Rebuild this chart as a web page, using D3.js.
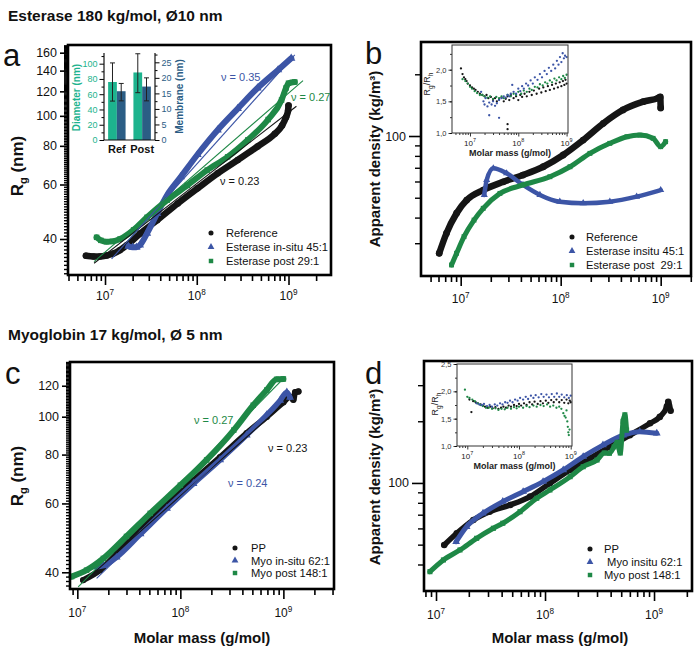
<!DOCTYPE html>
<html><head><meta charset="utf-8">
<script src="https://cdn.jsdelivr.net/npm/d3@7/dist/d3.min.js"></script>
<style>
html,body{margin:0;padding:0;background:#fff}
svg{display:block}
text{font-family:"Liberation Sans",Arial,Helvetica,sans-serif}
</style></head><body>
<svg id="chart" width="700" height="653"></svg>
<script>
const FONT = '"Liberation Sans",Arial,Helvetica,sans-serif';
const BLACK = "#151515", BLUE = "#3c55a6", GREEN = "#1e8846", TEAL = "#1db38e", NAVY = "#2b5d85";

// ---------------- Panel a : Rg vs molar mass, Esterase ----------------
const aReference = [[6.2e6,35.3],[7.5e6,35.1],[8.8e6,35.1],[1.05e7,35.4],[1.23e7,35.9],[1.45e7,36.8],[1.73e7,38.2],[2.42e7,41.7],[3.7e7,46.0],[6.2e7,52.1],[1.02e8,58.3],[1.69e8,65.2],[2.8e8,72.0],[4.6e8,79.6],[7.1e8,87.5],[8.5e8,93],[9.4e8,99],[9.9e8,104],[1.0e9,108]];
const aInsitu = [[1.8e7,37.9],[2.0e7,37.6],[2.2e7,37.6],[2.4e7,38.2],[2.87e7,41.7],[3.7e7,48.3],[4.76e7,55.5],[6.7e7,63.5],[1.02e8,75.0],[1.69e8,90.0],[2.8e8,105.5],[4.6e8,123.0],[7.7e8,140.7],[1.07e9,153.4]];
const aPost = [[8.1e6,40.5],[9.0e6,39.6],[1.04e7,39.2],[1.2e7,39.3],[1.46e7,40.0],[2.05e7,42.8],[2.87e7,47.0],[4.76e7,53.4],[7.9e7,59.6],[1.3e8,66.8],[2.17e8,73.7],[3.6e8,83.6],[6.0e8,97.3],[8.4e8,112.5],[9.4e8,123],[1.0e9,127.5],[1.17e9,128.6]];
const aFitReference = [[7.6e6,33.4],[1.22e9,107.4]];
const aFitInsitu = [[1.18e7,34.5],[1.17e9,157.3]];
const aFitPost = [[7.6e6,33.8],[1.44e9,130]];
const aLegend = ["Reference", "Esterase in-situ 45:1", "Esterase post 29:1"];
const aNu = ["ν = 0.23", "ν = 0.35", "ν = 0.27"];
const aYMajor = [40, 60, 80, 100, 120, 140, 160];

// inset of panel a : bar chart
const barCategories = ["Ref", "Post"];
const barDiameter = [76, 88.5];
const barDiameterErr = [[51, 101], [62, 113]];
const barMembrane = [15.7, 17.2];
const barMembraneErr = [[12.6, 18.2], [12.6, 20.0]];
const barDiamTicks = [0, 20, 40, 60, 80, 100];
const barMembTicks = [0, 5, 10, 15, 20, 25];

// ---------------- Panel b : apparent density, Esterase ----------------
const bReference = [[6.1e6,26.8],[7.2e6,33.5],[9.1e6,42.0],[1.15e7,48.7],[1.68e7,54.5],[2.67e7,59.8],[4.2e7,64.5],[6.7e7,70.8],[1.06e8,80.8],[1.68e8,95.6],[2.67e8,115.3],[4.2e8,134],[6.7e8,147],[9.5e8,153.5],[9.9e8,155],[1.0e9,137]];
const bInsitu = [[1.72e7,51.6],[1.82e7,61],[2.12e7,69.6],[2.88e7,65.8],[4.2e7,57.7],[6.2e7,51.6],[9.8e7,47.8],[1.68e8,47.0],[3.1e8,47.8],[5.75e8,50.6],[1.0e9,54.5]];
const bPost = [[8.1e6,23.5],[9.1e6,26.8],[1.08e7,32.3],[1.36e7,38.9],[1.68e7,44.4],[2.47e7,52.5],[4.2e7,57.7],[7.8e7,63.3],[1.24e8,70.8],[1.96e8,82.3],[3.1e8,92.1],[4.6e8,99.2],[6.2e8,101],[8.4e8,97.4],[1.0e9,88.7],[1.12e9,93.8]];
const bLegend = ["Reference", "Esterase insitu 45:1", "Esterase post  29:1"];
const bYTicks = [30, 40, 50, 60, 70, 80, 90, 200];
const bYLabel = [100];

// inset of panel b : Rg/Rh
const bInsetReference = [[6.5e6,2.02],[7e6,1.93],[7.5e6,1.88],[8e6,1.85],[8.5e6,1.82],[9e6,1.78],[1e7,1.75],[1.1e7,1.72],[1.2e7,1.7],[1.3e7,1.68],[1.45e7,1.65],[1.6e7,1.62],[1.8e7,1.6],[2e7,1.58],[2.2e7,1.6],[2.4e7,1.55],[2.7e7,1.57],[3e7,1.52],[3.3e7,1.55],[3.6e7,1.5],[4e7,1.53],[4.5e7,1.56],[5e7,1.5],[5.5e7,1.54],[6e7,1.58],[6.5e7,1.52],[7e7,1.6],[8e7,1.55],[9e7,1.58],[1e8,1.52],[1.1e8,1.6],[1.2e8,1.57],[1.35e8,1.62],[1.5e8,1.58],[1.7e8,1.65],[1.9e8,1.6],[2.1e8,1.67],[2.4e8,1.62],[2.7e8,1.7],[3e8,1.64],[3.3e8,1.72],[3.7e8,1.66],[4.1e8,1.74],[4.5e8,1.68],[5e8,1.76],[5.5e8,1.7],[6e8,1.78],[6.6e8,1.72],[7.2e8,1.8],[7.8e8,1.74],[8.4e8,1.82],[9e8,1.76],[9.5e8,1.84],[1e9,1.78],[6e7,1.14],[6e7,1.06]];
const bInsetInsitu = [[1.7e7,1.65],[1.9e7,1.5],[2e7,1.45],[2.1e7,1.55],[2.3e7,1.42],[2.5e7,1.48],[2.8e7,1.45],[3e7,1.5],[3.3e7,1.43],[3.6e7,1.47],[4e7,1.52],[4.5e7,1.55],[5e7,1.58],[5.5e7,1.56],[6e7,1.6],[6.5e7,1.58],[7e7,1.62],[7.5e7,1.76],[8e7,1.65],[9e7,1.62],[1e8,1.7],[1.1e8,1.66],[1.2e8,1.74],[1.3e8,1.7],[1.45e8,1.78],[1.6e8,1.75],[1.8e8,1.83],[2e8,1.78],[2.2e8,1.88],[2.5e8,1.84],[2.8e8,1.93],[3.1e8,1.88],[3.5e8,1.98],[3.9e8,1.93],[4.3e8,2.03],[4.8e8,1.98],[5.3e8,2.08],[5.8e8,2.02],[6.3e8,2.14],[6.8e8,2.08],[7.3e8,2.2],[7.8e8,2.12],[8.3e8,2.26],[8.8e8,2.18],[9.3e8,2.22],[1e9,2.2],[2.5e7,1.28],[4e7,1.24]];
const bInsetPost = [[7e6,1.85],[8e6,1.82],[9e6,1.78],[1e7,1.73],[1.1e7,1.7],[1.25e7,1.66],[1.4e7,1.63],[1.6e7,1.6],[1.8e7,1.6],[2e7,1.58],[2.3e7,1.56],[2.6e7,1.58],[3e7,1.54],[3.5e7,1.57],[4e7,1.55],[4.5e7,1.58],[5e7,1.55],[6e7,1.6],[7e7,1.58],[8e7,1.62],[9e7,1.6],[1e8,1.65],[1.15e8,1.62],[1.3e8,1.67],[1.5e8,1.65],[1.7e8,1.7],[1.9e8,1.68],[2.2e8,1.73],[2.5e8,1.72],[2.8e8,1.77],[3.2e8,1.75],[3.6e8,1.8],[4e8,1.78],[4.5e8,1.83],[5e8,1.8],[5.6e8,1.86],[6.2e8,1.83],[7e8,1.88],[7.8e8,1.85],[8.5e8,1.9],[9.2e8,1.87],[1e9,1.92]];
const bInsetYTicks = [1.0, 1.5, 2.0];

// ---------------- Panel c : Rg vs molar mass, Myoglobin ----------------
const cPP = [[1.14e7,38.2],[1.66e7,40.5],[2.42e7,44.6],[4.1e7,51.3],[7.4e7,60.0],[1.34e8,68.7],[2.43e8,78.8],[4.4e8,90.7],[6.9e8,100],[1.0e9,108.9],[1.16e9,112.4],[1.25e9,110.5],[1.3e9,115.5],[1.4e9,116]];
const cInsitu = [[1.5e7,41.3],[1.8e7,41.6],[2.4e7,43.7],[4.1e7,50.1],[7.4e7,58.3],[1.34e8,67.4],[2.43e8,77.5],[4.4e8,89.7],[6.9e8,101],[9.3e8,110],[1.08e9,115.5],[1.16e9,112]];
const cPost = [[8.8e6,39.0],[1.23e7,40.5],[1.79e7,43.4],[3.0e7,49.4],[5.1e7,56.6],[1.0e8,66.8],[1.8e8,77.5],[3.3e8,92.4],[5.1e8,107],[6.9e8,117],[8.6e8,124.6],[1.0e9,124.9]];
const cFitPP = [[1.19e7,38.1],[1.08e9,109.5]];
const cFitInsitu = [[1.54e7,38.6],[1.12e9,115]];
const cFitPost = [[1.02e7,36.7],[1.04e9,126.5]];
const cLegend = ["PP", "Myo in-situ 62:1", "Myo post 148:1"];
const cNu = ["ν = 0.23", "ν = 0.24", "ν = 0.27"];
const cYMajor = [40, 60, 80, 100, 120];

// ---------------- Panel d : apparent density, Myoglobin ----------------
const dPP = [[1.19e7,49.8],[1.55e7,56.8],[2.2e7,66],[3.1e7,72.4],[4.8e7,78.1],[7.3e7,85.8],[1.11e8,99.7],[1.7e8,115.7],[2.6e8,132],[3.9e8,150],[6.0e8,171],[9.2e8,195.5],[1.13e9,210],[1.31e9,235.7],[1.35e9,249],[1.42e9,225]];
const dInsitu = [[1.53e7,51.7],[1.91e7,61.2],[2.7e7,71.1],[4.1e7,81.1],[6.3e7,90.7],[9.6e7,101.5],[1.47e8,115.7],[2.24e8,134.4],[3.4e8,153],[5.2e8,171],[7.4e8,178],[1.06e9,174.7]];
const dPost = [[8.8e6,36.9],[1.17e7,42.1],[1.66e7,47.1],[2.36e7,53.7],[3.36e7,60.1],[4.1e7,63.6],[5.9e7,72.4],[8.4e7,84.2],[1.11e8,92.4],[1.7e8,107.3],[2.24e8,120],[3.0e8,129.4],[3.5e8,140],[3.9e8,139.6],[4.3e8,150],[4.6e8,158],[4.9e8,140],[5.2e8,200],[5.4e8,215],[5.6e8,181]];
const dLegend = ["PP", " Myo insitu 62:1", "Myo post 148:1"];
const dYTicks = [40, 50, 60, 70, 80, 90, 200, 300];
const dYLabel = [100];

// inset of panel d : Rg/Rh
const dInsetPP = [[1.1e7,1.85],[1.2e7,1.62],[1.3e7,1.82],[1.45e7,1.8],[1.6e7,1.78],[1.8e7,1.76],[2e7,1.74],[2.2e7,1.72],[2.5e7,1.7],[2.8e7,1.72],[3.1e7,1.69],[3.5e7,1.71],[4e7,1.68],[4.5e7,1.7],[5e7,1.72],[5.6e7,1.7],[6.3e7,1.74],[7e7,1.72],[8e7,1.75],[9e7,1.73],[1e8,1.77],[1.1e8,1.74],[1.25e8,1.78],[1.4e8,1.75],[1.6e8,1.8],[1.8e8,1.76],[2e8,1.81],[2.3e8,1.77],[2.6e8,1.82],[2.9e8,1.78],[3.3e8,1.83],[3.7e8,1.79],[4.2e8,1.84],[4.7e8,1.8],[5.3e8,1.85],[6e8,1.8],[6.7e8,1.84],[7.5e8,1.79],[8.3e8,1.85],[9e8,1.78],[9.6e8,1.83],[1e9,1.8]];
const dInsetInsitu = [[1.5e7,1.78],[1.7e7,1.76],[1.9e7,1.75],[2.1e7,1.77],[2.4e7,1.73],[2.7e7,1.75],[3e7,1.72],[3.4e7,1.76],[3.8e7,1.74],[4.3e7,1.78],[4.8e7,1.76],[5.4e7,1.8],[6e7,1.79],[6.7e7,1.83],[7.5e7,1.8],[8.4e7,1.85],[9.4e7,1.83],[1.05e8,1.88],[1.2e8,1.85],[1.35e8,1.9],[1.5e8,1.86],[1.7e8,1.92],[1.9e8,1.88],[2.1e8,1.93],[2.4e8,1.89],[2.7e8,1.95],[3e8,1.9],[3.4e8,1.94],[3.8e8,1.89],[4.3e8,1.95],[4.8e8,1.9],[5.4e8,1.96],[6e8,1.9],[6.7e8,1.94],[7.5e8,1.89],[8.4e8,1.93],[9.2e8,1.88],[1e9,1.92]];
const dInsetPost = [[9e6,2.03],[1e7,1.9],[1.1e7,1.88],[1.25e7,1.85],[1.4e7,1.82],[1.6e7,1.78],[1.8e7,1.75],[2e7,1.73],[2.3e7,1.7],[2.6e7,1.7],[3e7,1.68],[3.5e7,1.69],[4e7,1.66],[4.6e7,1.68],[5.3e7,1.67],[6e7,1.7],[7e7,1.68],[8e7,1.71],[9e7,1.69],[1e8,1.72],[1.2e8,1.7],[1.4e8,1.73],[1.6e8,1.71],[1.9e8,1.74],[2.2e8,1.72],[2.6e8,1.75],[3e8,1.73],[3.5e8,1.76],[4e8,1.72],[4.6e8,1.74],[5.3e8,1.7],[6e8,1.72],[6.6e8,1.68],[7.2e8,1.6],[7.6e8,1.55],[8e8,1.52],[8.3e8,1.65],[8.6e8,1.45],[8.8e8,1.35],[9e8,1.25],[9.2e8,1.2],[9.5e8,1.3]];
const dInsetYTicks = [1.0, 1.5, 2.0, 2.5];

// =====================================================================
const svg = d3.select("#chart");
svg.append("rect").attr("width", 700).attr("height", 653).attr("fill", "#fff");
const isPow10 = v => Math.abs(Math.log10(v) - Math.round(Math.log10(v))) < 1e-9;
const symCircle = d3.symbolCircle, symTri = d3.symbolTriangle, symSq = d3.symbolSquare;

function styleAxis(a, fs, color, sw) {
  a.select(".domain").remove();
  a.attr("font-family", FONT).attr("font-size", fs);
  a.selectAll("line").attr("stroke", "#000").attr("stroke-width", sw);
  a.selectAll("text").style("fill", color || "#111");
  return a;
}
function supText(g, x, y, base, exp, fs, anchor, color) {
  const t = g.append("text").attr("x", x).attr("y", y).attr("text-anchor", anchor || "middle")
    .attr("font-size", fs).style("fill", color || "#111");
  t.append("tspan").text(base);
  t.append("tspan").attr("dy", -fs * 0.45).attr("font-size", fs * 0.68).text(exp);
  return t;
}

function mainPanel(p) {
  const g = svg.append("g");
  const x = d3.scaleLog().domain(p.xDom).range([p.L, p.R]);
  const y = d3.scaleLog().domain(p.yDom).range([p.B, p.T]);
  const line = d3.line().x(d => x(d[0])).y(d => y(d[1])).curve(d3.curveMonotoneX);

  p.series.forEach(s => {
    g.append("path").datum(s.data).attr("d", line).attr("fill", "none")
      .attr("stroke", s.color).attr("stroke-width", s.w)
      .attr("stroke-linecap", "round").attr("stroke-linejoin", "round");
    g.append("g").selectAll("path").data(s.data).join("path")
      .attr("transform", d => `translate(${x(d[0])},${y(d[1])})`)
      .attr("d", d3.symbol().type(s.sym).size(s.size)).attr("fill", s.color);
  });
  const fitLine = d3.line().x(d => x(d[0])).y(d => y(d[1]));
  (p.fits || []).forEach(f => {
    g.append("path").datum(f.data).attr("d", fitLine).attr("fill", "none")
      .attr("stroke", f.color).attr("stroke-width", 1.1);
  });

  const xt = x.ticks().filter(v => v >= p.xDom[0] && v <= p.xDom[1]);
  styleAxis(g.append("g").attr("transform", `translate(0,${p.B})`)
    .call(d3.axisBottom(x).tickValues(xt.filter(v => !isPow10(v))).tickSize(6).tickFormat("")), 12, null, 1.6);
  styleAxis(g.append("g").attr("transform", `translate(0,${p.B})`)
    .call(d3.axisBottom(x).tickValues(xt.filter(isPow10)).tickSize(10).tickFormat("")), 12, null, 1.6);
  xt.filter(isPow10).forEach(v => supText(g, x(v), p.xLabelY, "10", Math.round(Math.log10(v)), 12));

  styleAxis(g.append("g").attr("transform", `translate(${p.L},0)`)
    .call(d3.axisLeft(y).tickValues(p.yMinor).tickSize(p.yMinorLen).tickFormat("")), 12, null, 1.4);
  styleAxis(g.append("g").attr("transform", `translate(${p.L},0)`)
    .call(d3.axisLeft(y).tickValues(p.yMajor).tickSize(p.yMajorLen).tickPadding(3).tickFormat(d3.format("d"))), 12.5, null, 1.6);

  g.append("rect").attr("x", p.L).attr("y", p.T).attr("width", p.R - p.L).attr("height", p.B - p.T)
    .attr("fill", "none").attr("stroke", "#000").attr("stroke-width", 2.6);

  p.legend.forEach((txt, i) => {
    const s = p.series[i];
    const ly = p.legY[i];
    g.append("path").attr("transform", `translate(${p.legMX},${ly - 4})`)
      .attr("d", d3.symbol().type(s.sym).size(20)).attr("fill", s.color);
    g.append("text").attr("x", p.legTX).attr("y", ly).attr("font-size", 11.2)
      .style("fill", "#111").style("white-space", "pre").text(txt);
  });
  (p.nu || []).forEach(n => {
    g.append("text").attr("x", n.x).attr("y", n.y).attr("font-size", 11).style("fill", n.color).text(n.t);
  });
  g.append("text").attr("x", p.letter.x).attr("y", p.letter.y).attr("font-size", 31).style("fill", "#111").text(p.letter.t);
  return { g, x, y };
}

// ---------------- Panel a ----------------
mainPanel({
  L: 68, R: 331, T: 45, B: 275,
  xDom: [3.95e6, 2.905e9], yDom: [30.6, 169.4],
  xLabelY: 300,
  yMinor: d3.range(31, 170, 1).filter(v => !aYMajor.includes(v)), yMinorLen: 4,
  yMajor: aYMajor, yMajorLen: 8,
  series: [
    { data: aReference, color: BLACK, sym: symCircle, w: 6.5, size: 34 },
    { data: aInsitu, color: BLUE, sym: symTri, w: 6, size: 30 },
    { data: aPost, color: GREEN, sym: symSq, w: 6, size: 30 }
  ],
  fits: [
    { data: aFitReference, color: BLACK },
    { data: aFitInsitu, color: BLUE },
    { data: aFitPost, color: GREEN }
  ],
  legend: aLegend, legMX: 211, legTX: 226, legY: [237, 251, 265],
  nu: [
    { t: aNu[0], x: 220, y: 185, color: BLACK },
    { t: aNu[1], x: 221, y: 81, color: BLUE },
    { t: aNu[2], x: 291, y: 101, color: GREEN }
  ],
  letter: { t: "a", x: 3, y: 66 }
});

// ---------------- Panel b ----------------
mainPanel({
  L: 421, R: 691, T: 42, B: 276,
  xDom: [4.01e6, 2.01e9], yDom: [20.76, 287.4],
  xLabelY: 303,
  yMinor: bYTicks, yMinorLen: 6,
  yMajor: bYLabel, yMajorLen: 12,
  series: [
    { data: bReference, color: BLACK, sym: symCircle, w: 6.5, size: 36 },
    { data: bInsitu, color: BLUE, sym: symTri, w: 4.5, size: 22 },
    { data: bPost, color: GREEN, sym: symSq, w: 5, size: 24 }
  ],
  legend: bLegend, legMX: 572, legTX: 586, legY: [241, 255, 269],
  letter: { t: "b", x: 365, y: 64 }
});

// ---------------- Panel c ----------------
mainPanel({
  L: 70, R: 334, T: 362, B: 589,
  xDom: [8.49e6, 3.1e9], yDom: [36.25, 138],
  xLabelY: 617,
  yMinor: d3.range(37, 139, 1).filter(v => !cYMajor.includes(v)), yMinorLen: 4,
  yMajor: cYMajor, yMajorLen: 8,
  series: [
    { data: cPP, color: BLACK, sym: symCircle, w: 6, size: 32 },
    { data: cInsitu, color: BLUE, sym: symTri, w: 5.5, size: 28 },
    { data: cPost, color: GREEN, sym: symSq, w: 6, size: 30 }
  ],
  fits: [
    { data: cFitPP, color: BLACK },
    { data: cFitInsitu, color: BLUE },
    { data: cFitPost, color: GREEN }
  ],
  legend: cLegend, legMX: 235, legTX: 251, legY: [552, 564.5, 577],
  nu: [
    { t: cNu[0], x: 268, y: 452, color: BLACK },
    { t: cNu[1], x: 228, y: 487, color: BLUE },
    { t: cNu[2], x: 194, y: 424, color: GREEN }
  ],
  letter: { t: "c", x: 5, y: 384 }
});

// ---------------- Panel d ----------------
mainPanel({
  L: 424, R: 692, T: 361, B: 591,
  xDom: [7.76e6, 2.23e9], yDom: [29.7, 393.6],
  xLabelY: 619,
  yMinor: dYTicks, yMinorLen: 6,
  yMajor: dYLabel, yMajorLen: 12,
  series: [
    { data: dPP, color: BLACK, sym: symCircle, w: 5.5, size: 34 },
    { data: dInsitu, color: BLUE, sym: symTri, w: 5, size: 26 },
    { data: dPost, color: GREEN, sym: symSq, w: 5, size: 26 }
  ],
  legend: dLegend, legMX: 590, legTX: 604, legY: [553, 566, 579],
  letter: { t: "d", x: 365, y: 384 }
});

// ---------------- Scatter insets (Rg/Rh) ----------------
function scatterInset(p) {
  const g = svg.append("g");
  const x = d3.scaleLog().domain(p.xDom).range([p.L, p.R]);
  const y = d3.scaleLinear().domain(p.yDom).range([p.B, p.T]);
  g.append("rect").attr("x", p.L).attr("y", p.T).attr("width", p.R - p.L).attr("height", p.B - p.T).attr("fill", "#fff");
  p.series.forEach(s => {
    g.append("g").selectAll("circle").data(s.data).join("circle")
      .attr("cx", d => x(d[0])).attr("cy", d => y(d[1])).attr("r", 1.15).attr("fill", s.color);
  });
  const xt = x.ticks().filter(v => v >= p.xDom[0] && v <= p.xDom[1]);
  styleAxis(g.append("g").attr("transform", `translate(0,${p.B})`)
    .call(d3.axisBottom(x).tickValues(xt.filter(v => !isPow10(v))).tickSize(2).tickFormat("")), 8, null, 0.8);
  styleAxis(g.append("g").attr("transform", `translate(0,${p.B})`)
    .call(d3.axisBottom(x).tickValues(xt.filter(isPow10)).tickSize(3.5).tickFormat("")), 8, null, 0.8);
  xt.filter(isPow10).forEach(v => supText(g, x(v), p.B + 13, "10", Math.round(Math.log10(v)), 8, "middle", "#222"));
  const ym = d3.range(p.yDom[0], p.yDom[1] + 1e-9, 0.25);
  styleAxis(g.append("g").attr("transform", `translate(${p.L},0)`)
    .call(d3.axisLeft(y).tickValues(ym).tickSize(2).tickFormat("")), 8, null, 0.8);
  styleAxis(g.append("g").attr("transform", `translate(${p.L},0)`)
    .call(d3.axisLeft(y).tickValues(p.yTicks).tickSize(3.5).tickPadding(2)
      .tickFormat(v => d3.format(".1f")(v).replace(".", ","))), 7.5, "#333", 0.8);
  g.append("rect").attr("x", p.L).attr("y", p.T).attr("width", p.R - p.L).attr("height", p.B - p.T)
    .attr("fill", "none").attr("stroke", "#333").attr("stroke-width", 1);
  const t = g.append("text").attr("transform", `translate(${p.yLabX},${p.yLabY}) rotate(-90)`)
    .attr("text-anchor", "middle").attr("font-size", 9).style("fill", "#222");
  t.append("tspan").text("R");
  t.append("tspan").attr("dy", 2.5).attr("font-size", 6.5).text("g");
  t.append("tspan").attr("dy", -2.5).text("/R");
  t.append("tspan").attr("dy", 2.5).attr("font-size", 6.5).text("h");
  g.append("text").attr("x", (p.L + p.R) / 2).attr("y", p.B + 23).attr("text-anchor", "middle")
    .attr("font-size", 9).attr("font-weight", "bold").style("fill", "#222").text("Molar mass (g/mol)");
}
scatterInset({
  L: 452, R: 568, T: 45, B: 133, xDom: [4.24e6, 1.07e9], yDom: [1.0, 2.39], yTicks: bInsetYTicks,
  yLabX: 430, yLabY: 84,
  series: [{ data: bInsetReference, color: BLACK }, { data: bInsetPost, color: GREEN }, { data: bInsetInsitu, color: BLUE }]
});
scatterInset({
  L: 457, R: 572, T: 364, B: 446, xDom: [6.32e6, 1.06e9], yDom: [1.0, 2.5], yTicks: dInsetYTicks,
  yLabX: 438, yLabY: 404,
  series: [{ data: dInsetPP, color: BLACK }, { data: dInsetPost, color: GREEN }, { data: dInsetInsitu, color: BLUE }]
});

// ---------------- Bar inset of panel a ----------------
(function barInset() {
  const L = 104, R = 155, T = 53, B = 140;
  const g = svg.append("g");
  const xb = d3.scaleBand().domain(barCategories).range([L, R]).paddingInner(0.31).paddingOuter(0.163);
  const xs = d3.scaleBand().domain(["diam", "memb"]).range([0, xb.bandwidth()]);
  const yD = d3.scaleLinear().domain([0, 114]).range([B, T]);
  const yM = d3.scaleLinear().domain([0, 28]).range([B, T]);
  barCategories.forEach((c, i) => {
    const x0 = xb(c);
    g.append("rect").attr("x", x0 + xs("diam")).attr("y", yD(barDiameter[i])).attr("width", xs.bandwidth())
      .attr("height", B - yD(barDiameter[i])).attr("fill", TEAL);
    g.append("rect").attr("x", x0 + xs("memb")).attr("y", yM(barMembrane[i])).attr("width", xs.bandwidth())
      .attr("height", B - yM(barMembrane[i])).attr("fill", NAVY);
    const errs = [[x0 + xs("diam") + xs.bandwidth() / 2, yD(barDiameterErr[i][0]), yD(barDiameterErr[i][1])],
                  [x0 + xs("memb") + xs.bandwidth() / 2, yM(barMembraneErr[i][0]), yM(barMembraneErr[i][1])]];
    errs.forEach(([cx, y0, y1]) => {
      g.append("line").attr("x1", cx).attr("x2", cx).attr("y1", y0).attr("y2", y1).attr("stroke", "#222").attr("stroke-width", 1);
      [y0, y1].forEach(yy => g.append("line").attr("x1", cx - 2.5).attr("x2", cx + 2.5).attr("y1", yy).attr("y2", yy)
        .attr("stroke", "#222").attr("stroke-width", 1));
    });
    g.append("text").attr("x", x0 + xb.bandwidth() / 2).attr("y", 153).attr("text-anchor", "middle")
      .attr("font-size", 11).attr("font-weight", "bold").style("fill", "#111").text(c);
  });
  const la = g.append("g").attr("transform", `translate(${L},0)`);
  la.call(d3.axisLeft(yD).tickValues(d3.range(10, 111, 20)).tickSize(2.5).tickFormat(""));
  styleAxis(la, 9, TEAL, 1);
  const la2 = g.append("g").attr("transform", `translate(${L},0)`);
  la2.call(d3.axisLeft(yD).tickValues(barDiamTicks).tickSize(4.5).tickPadding(2));
  styleAxis(la2, 9, TEAL, 1);
  const ra = g.append("g").attr("transform", `translate(${R},0)`);
  ra.call(d3.axisRight(yM).tickValues(d3.range(2.5, 28, 5)).tickSize(2.5).tickFormat(""));
  styleAxis(ra, 9, NAVY, 1);
  const ra2 = g.append("g").attr("transform", `translate(${R},0)`);
  ra2.call(d3.axisRight(yM).tickValues(barMembTicks).tickSize(4.5).tickPadding(2));
  styleAxis(ra2, 9, NAVY, 1);
  g.append("line").attr("x1", L).attr("x2", L).attr("y1", T).attr("y2", B).attr("stroke", "#111").attr("stroke-width", 1.2);
  g.append("line").attr("x1", R).attr("x2", R).attr("y1", T).attr("y2", B).attr("stroke", "#111").attr("stroke-width", 1.2);
  g.append("line").attr("x1", L).attr("x2", R).attr("y1", B).attr("y2", B).attr("stroke", "#111").attr("stroke-width", 1.2);
  g.append("text").attr("transform", `translate(80,${(T + B) / 2 + 1}) rotate(-90)`).attr("text-anchor", "middle")
    .attr("font-size", 10).attr("font-weight", "bold").style("fill", TEAL).text("Diameter (nm)");
  g.append("text").attr("transform", `translate(183,${(T + B) / 2}) rotate(-90)`).attr("text-anchor", "middle")
    .attr("font-size", 10).attr("font-weight", "bold").style("fill", NAVY).text("Membrane (nm)");
})();

// ---------------- Titles and axis labels ----------------
svg.append("text").attr("x", 8).attr("y", 21).attr("font-size", 15.5).attr("font-weight", "bold").style("fill", "#111")
  .text("Esterase 180 kg/mol, Ø10 nm");
svg.append("text").attr("x", 8).attr("y", 340).attr("font-size", 15.5).attr("font-weight", "bold").style("fill", "#111")
  .text("Myoglobin 17 kg/mol, Ø 5 nm");

function rgLabel(cx, cy) {
  const t = svg.append("text").attr("transform", `translate(${cx},${cy}) rotate(-90)`).attr("text-anchor", "middle")
    .attr("font-size", 17).attr("font-weight", "bold").style("fill", "#111");
  t.append("tspan").text("R");
  t.append("tspan").attr("dy", 4).attr("font-size", 11).text("g");
  t.append("tspan").attr("dy", -4).text(" (nm)");
}
rgLabel(23, 166);
rgLabel(23, 476);
function densLabel(cx, cy) {
  svg.append("text").attr("transform", `translate(${cx},${cy}) rotate(-90)`).attr("text-anchor", "middle")
    .attr("font-size", 15).attr("font-weight", "bold").style("fill", "#111").text("Apparent density (kg/m³)");
}
densLabel(380, 159);
densLabel(380, 477);
[[202, 643], [560, 643]].forEach(([cx, cy]) => {
  svg.append("text").attr("x", cx).attr("y", cy).attr("text-anchor", "middle").attr("font-size", 15)
    .attr("font-weight", "bold").style("fill", "#111").text("Molar mass (g/mol)");
});
</script>
</body></html>
